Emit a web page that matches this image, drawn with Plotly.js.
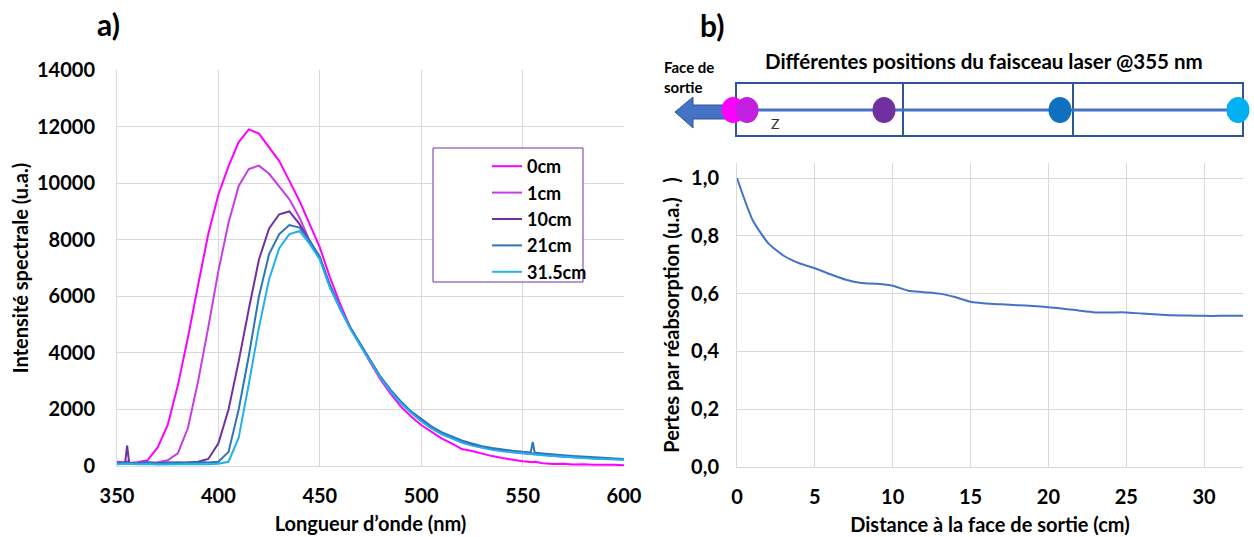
<!DOCTYPE html>
<html>
<head>
<meta charset="utf-8">
<script src="https://cdn.plot.ly/plotly-3.0.1.min.js"></script>
<style>html,body{margin:0;padding:0;background:#fff;}#chart{width:1254px;height:537px;}</style>
</head>
<body>
<div id="chart"></div>
<script>
// ---------- data ----------
const wavelength = [350,354,355,356,360,365,370,375,380,385,390,395,400,405,410,415,420,425,430,435,440,445,450,455,460,465,470,475,480,485,490,495,500,505,510,515,520,525,530,535,540,545,550,554,555,556,560,565,570,575,580,585,590,595,600];
const seriesNames = ['0cm','1cm','10cm','21cm','31.5cm'];
const spec0cm  = [150,120,160,110,130,200,650,1450,2850,4550,6400,8200,9600,10600,11450,11900,11750,11250,10780,10080,9370,8550,7730,6670,5730,4900,4250,3650,3050,2550,2100,1750,1450,1200,980,800,600,530,430,350,280,220,170,140,130,150,100,70,80,50,60,40,50,40,30];
const spec1cm  = [100,90,110,100,90,110,130,200,450,1350,3000,4900,6900,8600,9900,10500,10620,10330,9900,9430,8780,7960,7350,6350,5550,4880,4280,3680,3100,2640,2240,1890,1600,1350,1140,990,840,740,650,590,530,490,450,430,420,430,390,360,330,310,290,270,250,240,230];
const spec10cm = [80,120,720,100,90,110,100,120,110,130,150,250,800,2000,3700,5550,7300,8400,8900,9000,8550,7950,7350,6380,5580,4900,4300,3700,3130,2660,2260,1910,1620,1370,1160,1010,860,760,670,610,550,510,470,450,440,450,410,380,350,320,300,280,260,250,240];
const spec21cm = [120,100,130,90,110,140,100,120,130,110,140,120,150,500,2000,3900,6000,7490,8200,8520,8430,7960,7400,6400,5600,4900,4300,3700,3150,2680,2280,1930,1650,1400,1200,1050,900,800,700,640,580,540,500,480,850,470,440,400,380,350,330,300,290,270,250];
const spec31cm = [60,70,60,80,60,70,50,60,70,60,70,60,80,150,1000,2900,4900,6600,7700,8200,8300,7850,7300,6300,5550,4850,4250,3650,3100,2620,2220,1880,1580,1330,1130,980,830,720,640,570,520,480,440,420,420,410,380,350,320,300,280,260,240,230,220];
const seriesColors = ['#FF00FF','#C83CE6','#7030A0','#2E75B6','#21B1EC'];

const distance = [0,1,2,3,4,5,6,7,8,9,10,11,12,13,14,15,16,17,18,19,20,21,22,23,24,25,26,27,28,29,30,31,32,32.5];
const losses   = [1.0,0.855,0.775,0.731,0.705,0.688,0.667,0.648,0.637,0.634,0.627,0.610,0.605,0.600,0.588,0.572,0.566,0.563,0.560,0.557,0.553,0.548,0.541,0.535,0.535,0.535,0.531,0.528,0.525,0.524,0.523,0.523,0.523,0.523];

// laser positions in the diagram and their colours
const beamLabels = ['0cm','1cm','10cm','21cm','31.5cm'];
const beamColors = ['#FF00FF','#C21FE0','#7030A0','#1070C0','#00B0F0'];

// ---------- helpers (pixel -> paper) ----------
const W = 1254, H = 537;
const X = p => p / W;
const Y = p => 1 - p / H;

const FONT = 'Lato, "DejaVu Sans", sans-serif';
const bold = (size, color) => ({family: FONT, size: size, color: color || '#000', weight: 'bold'});

const specs = [spec0cm, spec1cm, spec10cm, spec21cm, spec31cm];
const traces = specs.map((s, i) => ({
  type: 'scatter', mode: 'lines', x: wavelength, y: s, name: seriesNames[i],
  line: {color: seriesColors[i], width: 2}, xaxis: 'x', yaxis: 'y', showlegend: true
}));
traces.push({
  type: 'scatter', mode: 'lines', x: distance, y: losses, name: 'Pertes',
  line: {color: '#4472C4', width: 2, shape: 'spline', smoothing: 0.6},
  xaxis: 'x2', yaxis: 'y2', showlegend: false
});

// diagram shapes
const shapes = [];
// legend frame
shapes.push({type: 'rect', xref: 'paper', yref: 'paper', x0: X(433), x1: X(583), y0: Y(148), y1: Y(282),
  line: {color: '#7030A0', width: 1}, fillcolor: '#ffffff', layer: 'above'});
// crystal box
shapes.push({type: 'rect', xref: 'paper', yref: 'paper', x0: X(736), x1: X(1243), y0: Y(83), y1: Y(136),
  line: {color: '#2F5597', width: 2}, layer: 'above'});
[903, 1073].forEach(px => shapes.push({type: 'line', xref: 'paper', yref: 'paper', x0: X(px), x1: X(px), y0: Y(83), y1: Y(136),
  line: {color: '#2F5597', width: 2}, layer: 'above'}));
// beam axis line with arrow head
shapes.push({type: 'line', xref: 'paper', yref: 'paper', x0: X(738), x1: X(1230), y0: Y(110), y1: Y(110),
  line: {color: '#4472C4', width: 3}, layer: 'above'});
shapes.push({type: 'path', xref: 'paper', yref: 'paper',
  path: `M${X(1228)},${Y(104)} L${X(1241)},${Y(110)} L${X(1228)},${Y(116)} Z`,
  fillcolor: '#4472C4', line: {color: '#4472C4', width: 1}, layer: 'above'});
// exit face block arrow
shapes.push({type: 'path', xref: 'paper', yref: 'paper',
  path: `M${X(737)},${Y(105)} L${X(693)},${Y(105)} L${X(693)},${Y(97)} L${X(675)},${Y(112)} L${X(693)},${Y(128)} L${X(693)},${Y(119)} L${X(737)},${Y(119)} Z`,
  fillcolor: '#4472C4', line: {color: '#2F5597', width: 1}, layer: 'above'});
// beam position dots
const beamPx = [733, 747, 884, 1060, 1238];
beamPx.forEach((cx, i) => shapes.push({type: 'circle', xref: 'paper', yref: 'paper',
  x0: X(cx - 11.5), x1: X(cx + 11.5), y0: Y(97), y1: Y(123),
  fillcolor: beamColors[i], line: {color: beamColors[i], width: 0}, layer: 'above'}));

const annotations = [
  {text: 'a)', x: X(108), y: Y(24), xref: 'paper', yref: 'paper', showarrow: false, font: bold(30), xanchor: 'center', yanchor: 'middle'},
  {text: 'b)', x: X(712), y: Y(25), xref: 'paper', yref: 'paper', showarrow: false, font: bold(30), xanchor: 'center', yanchor: 'middle'},
  {text: 'Différentes positions du faisceau laser @355 nm', x: X(984), y: Y(61), xref: 'paper', yref: 'paper', showarrow: false, font: bold(20.5), xanchor: 'center', yanchor: 'middle'},
  {text: 'Face de<br>sortie', x: X(662), y: Y(77), xref: 'paper', yref: 'paper', showarrow: false, font: bold(15), xanchor: 'left', yanchor: 'middle', align: 'left'},
  {text: 'Z', x: X(775), y: Y(123), xref: 'paper', yref: 'paper', showarrow: false, font: {family: FONT, size: 14, color: '#333'}, xanchor: 'center', yanchor: 'middle'}
];

const grid = '#d9d9d9';
const layout = {
  width: W, height: H, autosize: false,
  margin: {l: 0, r: 0, t: 0, b: 0},
  paper_bgcolor: '#fff', plot_bgcolor: '#fff',
  separators: ',.',
  font: {family: FONT, color: '#000'},
  showlegend: true,
  legend: {x: X(487), y: Y(148), xanchor: 'left', yanchor: 'top', xref: 'paper', yref: 'paper',
    bgcolor: 'rgba(0,0,0,0)', borderwidth: 0, font: bold(18), itemwidth: 30},
  xaxis: {domain: [X(117), X(624)], range: [350, 600], tick0: 350, dtick: 50, anchor: 'y',
    showgrid: true, gridcolor: grid, showline: true, linecolor: grid, zeroline: false, ticks: '',
    tickfont: bold(20), ticklabelstandoff: 12,
    title: {text: 'Longueur d’onde (nm)', font: bold(20), standoff: 10}},
  yaxis: {domain: [Y(466), Y(70)], range: [0, 14000], dtick: 2000, anchor: 'x', tickformat: 'd',
    showgrid: true, gridcolor: grid, showline: true, linecolor: grid, zeroline: false, ticks: '',
    tickfont: bold(20), ticklabelstandoff: 17,
    title: {text: 'Intensité spectrale (u.a.)', font: bold(20), standoff: 3}},
  xaxis2: {domain: [X(737), X(1243)], range: [0, 32.5], tick0: 0, dtick: 5, anchor: 'y2',
    showgrid: true, gridcolor: grid, showline: true, linecolor: grid, zeroline: false, ticks: '',
    tickfont: bold(20), ticklabelstandoff: 12,
    title: {text: 'Distance à la face de sortie (cm)', font: bold(20), standoff: 10}},
  yaxis2: {domain: [Y(467), Y(163)], range: [0, 1.052], tick0: 0, dtick: 0.2, anchor: 'x2', tickformat: '.1f',
    showgrid: true, gridcolor: grid, showline: true, linecolor: grid, zeroline: false, ticks: '',
    tickfont: bold(20), ticklabelstandoff: 13,
    title: {text: 'Pertes par réabsorption (u.a.)   )', font: bold(20), standoff: 6}},
  shapes: shapes,
  annotations: annotations
};

Plotly.newPlot('chart', traces, layout, {displayModeBar: false, staticPlot: true});
</script>
</body>
</html>
